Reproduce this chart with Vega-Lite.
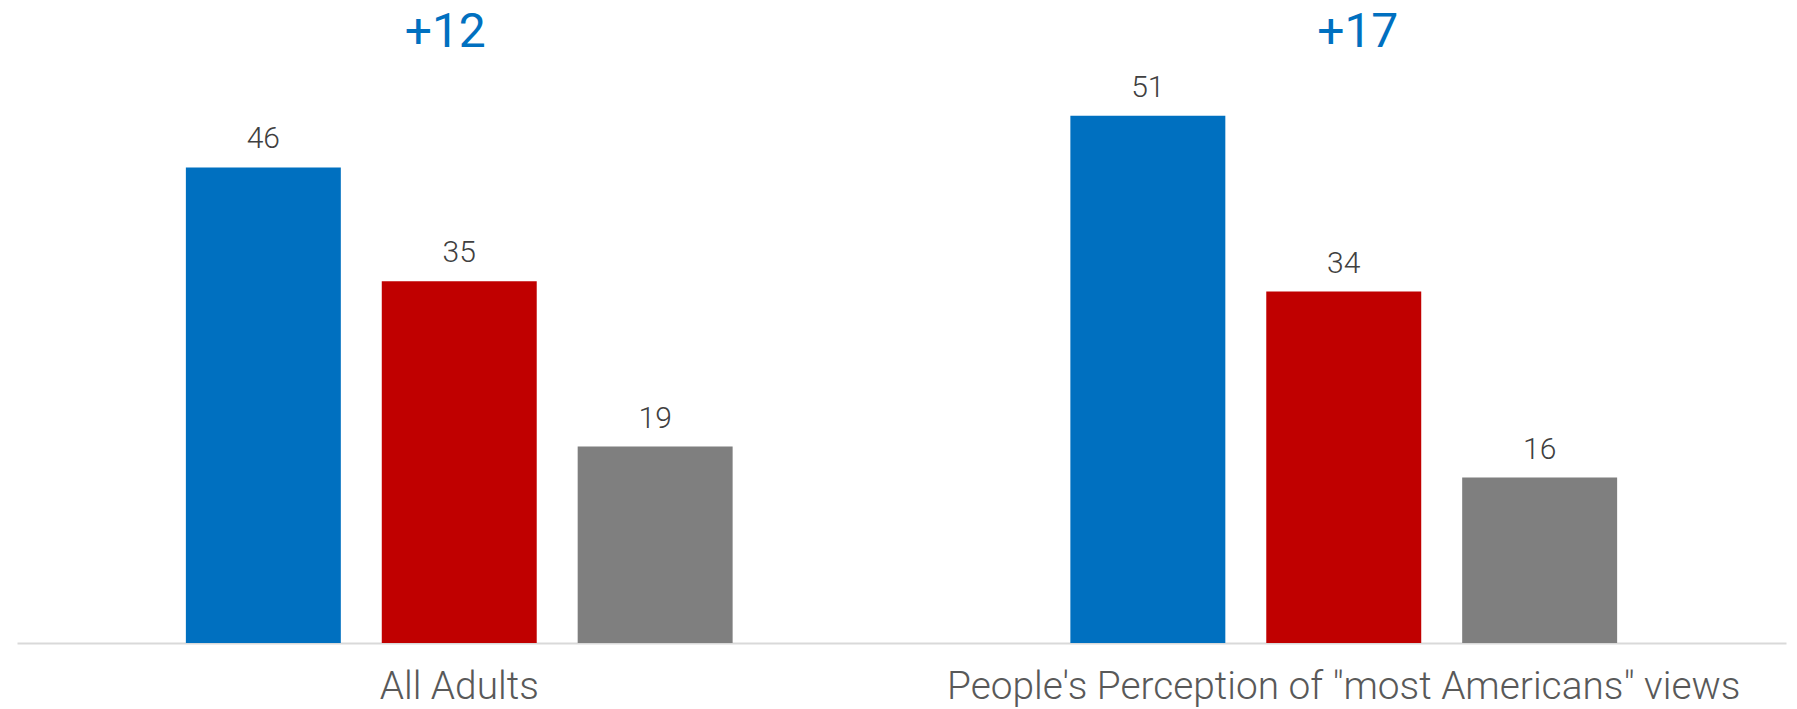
{
  "$schema": "https://vega.github.io/schema/vega-lite/v6.json",
  "width": 1769,
  "height": 643,
  "autosize": {"type": "none"},
  "padding": {"left": 17, "top": 0, "right": 11, "bottom": 66},
  "background": "white",
  "config": {"view": {"stroke": null}},
  "datasets": {
    "bars": [
      {"group": "All Adults", "series": "Series 1", "value": 46},
      {"group": "All Adults", "series": "Series 2", "value": 35},
      {"group": "All Adults", "series": "Series 3", "value": 19},
      {"group": "People's Perception of \"most Americans\" views", "series": "Series 1", "value": 51},
      {"group": "People's Perception of \"most Americans\" views", "series": "Series 2", "value": 34},
      {"group": "People's Perception of \"most Americans\" views", "series": "Series 3", "value": 16}
    ],
    "gaps": [
      {"group": "All Adults", "gap": "+12"},
      {"group": "People's Perception of \"most Americans\" views", "gap": "+17"}
    ]
  },
  "encoding": {
    "x": {
      "field": "group",
      "type": "nominal",
      "sort": ["All Adults", "People's Perception of \"most Americans\" views"],
      "scale": {"paddingInner": 0, "paddingOuter": 0},
      "axis": {
        "title": null,
        "labelAngle": 0,
        "ticks": false,
        "tickSize": 0,
        "domainColor": "#D9D9D9",
        "domainWidth": 2,
        "labelFont": "Roboto",
        "labelFontWeight": 300,
        "labelFontSize": 38.8,
        "labelColor": "#595959",
        "labelBaseline": "alphabetic",
        "labelPadding": 55,
        "labelLimit": 2000
      }
    }
  },
  "layer": [
    {
      "data": {"name": "bars"},
      "mark": {"type": "bar"},
      "encoding": {
        "xOffset": {"field": "series", "type": "nominal", "sort": ["Series 1", "Series 2", "Series 3"], "scale": {"paddingInner": 0.209, "paddingOuter": 0.862}},
        "y": {"field": "value", "type": "quantitative", "scale": {"domain": [0, 62.2], "nice": false, "zero": true}, "axis": null},
        "color": {"field": "series", "type": "nominal", "sort": ["Series 1", "Series 2", "Series 3"], "scale": {"domain": ["Series 1", "Series 2", "Series 3"], "range": ["#0070C0", "#C00000", "#7F7F7F"]}, "legend": null}
      }
    },
    {
      "data": {"name": "bars"},
      "mark": {"type": "text", "baseline": "alphabetic", "dy": -19, "font": "Roboto", "fontWeight": 300, "fontSize": 30, "color": "#404040"},
      "encoding": {
        "xOffset": {"field": "series", "type": "nominal", "sort": ["Series 1", "Series 2", "Series 3"], "scale": {"paddingInner": 0.209, "paddingOuter": 0.862}},
        "y": {"field": "value", "type": "quantitative", "scale": {"domain": [0, 62.2], "nice": false, "zero": true}, "axis": null},
        "text": {"field": "value", "type": "quantitative"}
      }
    },
    {
      "data": {"name": "gaps"},
      "transform": [{"filter": "datum.gap === '+12'"}],
      "mark": {"type": "text", "baseline": "alphabetic", "dx": -14, "font": "Roboto", "fontWeight": 400, "fontSize": 48, "color": "#0070C0"},
      "encoding": {
        "y": {"datum": 57.7, "type": "quantitative", "scale": {"domain": [0, 62.2], "nice": false, "zero": true}, "axis": null},
        "text": {"field": "gap", "type": "nominal"}
      }
    },
    {
      "data": {"name": "gaps"},
      "transform": [{"filter": "datum.gap === '+17'"}],
      "mark": {"type": "text", "baseline": "alphabetic", "dx": 14, "font": "Roboto", "fontWeight": 400, "fontSize": 48, "color": "#0070C0"},
      "encoding": {
        "y": {"datum": 57.7, "type": "quantitative", "scale": {"domain": [0, 62.2], "nice": false, "zero": true}, "axis": null},
        "text": {"field": "gap", "type": "nominal"}
      }
    }
  ]
}
